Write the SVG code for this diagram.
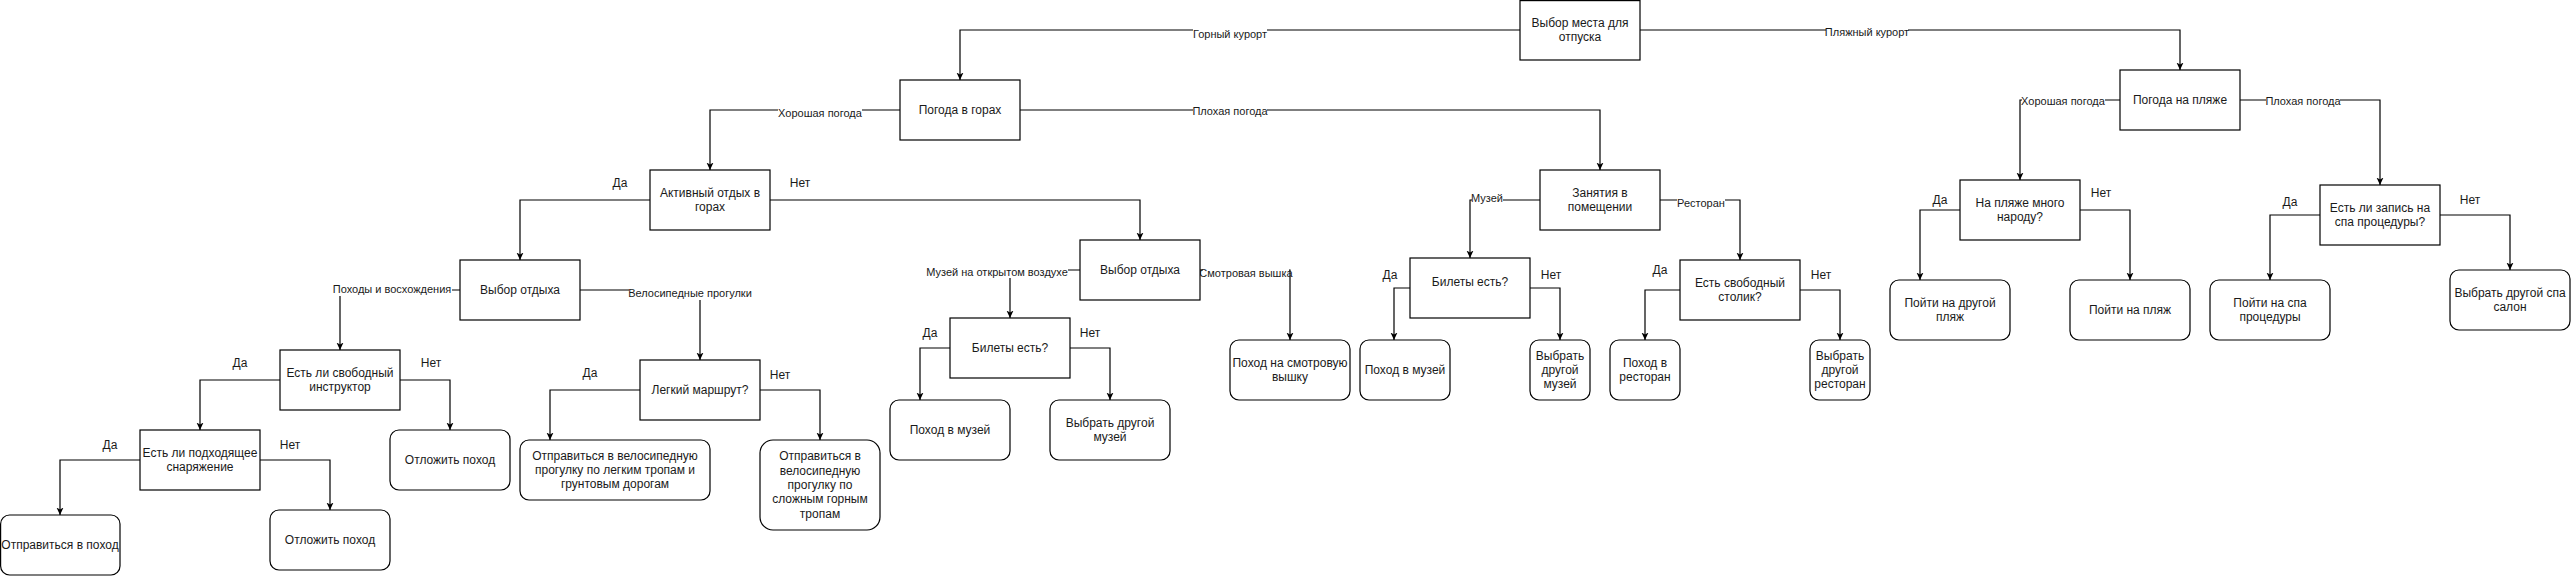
<svg xmlns="http://www.w3.org/2000/svg" width="2571" height="576" viewBox="0 0 2571 576">
<style>
.n{fill:#fff;stroke:#000;stroke-width:1.2}
.t{font-family:"Liberation Sans",Arial,sans-serif;font-size:12px;fill:#1a1a1a;text-anchor:middle}
.c{fill:none;stroke:#000;stroke-width:1.2;marker-end:url(#arr)}
.lb{fill:#fff}
.lt{font-family:"Liberation Sans",Arial,sans-serif;font-size:11px;fill:#1a1a1a;text-anchor:middle}
</style>
<defs>
<marker id="arr" viewBox="0 0 8 8" refX="7.5" refY="4" markerWidth="8" markerHeight="8" orient="auto" markerUnits="userSpaceOnUse">
<path d="M0,0.5 L7.5,4 L0,7.5 L2,4 Z" fill="#000"/>
</marker>
</defs>
<rect width="2571" height="576" fill="#fff"/>
<g id="connectors">
<path class="c" d="M1520,30 H960 V80"/>
<path class="c" d="M1640,30 H2180 V70"/>
<path class="c" d="M900,110 H710 V170"/>
<path class="c" d="M1020,110 H1600 V170"/>
<path class="c" d="M2120,100 H2020 V180"/>
<path class="c" d="M2240,100 H2380 V185"/>
<path class="c" d="M650,200 H520 V260"/>
<path class="c" d="M770,200 H1140 V240"/>
<path class="c" d="M460,290 H340 V350"/>
<path class="c" d="M580,290 H700 V360"/>
<path class="c" d="M280,380 H200 V430"/>
<path class="c" d="M400,380 H450 V430"/>
<path class="c" d="M140,460 H60 V515"/>
<path class="c" d="M260,460 H330 V510"/>
<path class="c" d="M640,390 H550 V440"/>
<path class="c" d="M760,390 H820 V440"/>
<path class="c" d="M1080,270 H1010 V318"/>
<path class="c" d="M1200,270 H1290 V340"/>
<path class="c" d="M950,348 H920 V400"/>
<path class="c" d="M1070,348 H1110 V400"/>
<path class="c" d="M1540,200 H1470 V258"/>
<path class="c" d="M1660,200 H1740 V260"/>
<path class="c" d="M1410,288 H1394 V340"/>
<path class="c" d="M1530,288 H1560 V340"/>
<path class="c" d="M1680,290 H1645 V340"/>
<path class="c" d="M1800,290 H1840 V340"/>
<path class="c" d="M1960,210 H1920 V280"/>
<path class="c" d="M2080,210 H2130 V280"/>
<path class="c" d="M2320,215 H2270 V280"/>
<path class="c" d="M2440,215 H2510 V270"/>
<g id="edge-labels">
<rect class="lb" x="1193" y="29" width="74" height="12"/><text class="lt" x="1230" y="38">Горный курорт</text>
<rect class="lb" x="1826" y="26" width="82" height="12"/><text class="lt" x="1867" y="36">Пляжный курорт</text>
<rect class="lb" x="778" y="106" width="84" height="13"/><text class="lt" x="820" y="117">Хорошая погода</text>
<rect class="lb" x="1193" y="105" width="74" height="13"/><text class="lt" x="1230" y="115">Плохая погода</text>
<rect class="lb" x="332" y="283" width="120" height="13"/><text class="lt" x="392" y="293">Походы и восхождения</text>
<rect class="lb" x="629" y="286" width="123" height="14"/><text class="lt" x="690" y="297">Велосипедные прогулки</text>
<rect class="lb" x="927" y="265" width="141" height="13"/><text class="lt" x="997" y="276">Музей на открытом воздухе</text>
<rect class="lb" x="1203" y="266" width="86" height="13"/><text class="lt" x="1246" y="277">Смотровая вышка</text>
<rect class="lb" x="1472" y="192" width="31" height="13"/><text class="lt" x="1487" y="202">Музей</text>
<rect class="lb" x="1677" y="196" width="48" height="13"/><text class="lt" x="1701" y="207">Ресторан</text>
<rect class="lb" x="2022" y="94" width="83" height="13"/><text class="lt" x="2063" y="105">Хорошая погода</text>
<rect class="lb" x="2266" y="94" width="74" height="13"/><text class="lt" x="2303" y="105">Плохая погода</text>
</g>
</g>
<g id="branch-labels">
<text class="t" x="240" y="367">Да</text><text class="t" x="431" y="367">Нет</text>
<text class="t" x="110" y="449">Да</text><text class="t" x="290" y="449">Нет</text>
<text class="t" x="620" y="187">Да</text><text class="t" x="800" y="187">Нет</text>
<text class="t" x="590" y="377">Да</text><text class="t" x="780" y="379">Нет</text>
<text class="t" x="930" y="337">Да</text><text class="t" x="1090" y="337">Нет</text>
<text class="t" x="1390" y="279">Да</text><text class="t" x="1551" y="279">Нет</text>
<text class="t" x="1660" y="274">Да</text><text class="t" x="1821" y="279">Нет</text>
<text class="t" x="1940" y="204">Да</text><text class="t" x="2101" y="197">Нет</text>
<text class="t" x="2290" y="206">Да</text><text class="t" x="2470" y="204">Нет</text>
</g>
<g id="n1"><rect class="n" x="1520" y="0.6" width="120" height="59.4"/><text class="t" x="1580" y="26.8">Выбор места для<tspan x="1580" dy="14.4">отпуска</tspan></text></g>
<g id="n2"><rect class="n" x="900" y="80" width="120" height="60"/><text class="t" x="960" y="114">Погода в горах</text></g>
<g id="n3"><rect class="n" x="2120" y="70" width="120" height="60"/><text class="t" x="2180" y="104">Погода на пляже</text></g>
<g id="n4"><rect class="n" x="650" y="170" width="120" height="60"/><text class="t" x="710" y="196.8">Активный отдых в<tspan x="710" dy="14.4">горах</tspan></text></g>
<g id="n5"><rect class="n" x="1540" y="170" width="120" height="60"/><text class="t" x="1600" y="196.8">Занятия в<tspan x="1600" dy="14.4">помещении</tspan></text></g>
<g id="n6"><rect class="n" x="1960" y="180" width="120" height="60"/><text class="t" x="2020" y="206.8">На пляже много<tspan x="2020" dy="14.4">народу?</tspan></text></g>
<g id="n7"><rect class="n" x="2320" y="185" width="120" height="60"/><text class="t" x="2380" y="211.8">Есть ли запись на<tspan x="2380" dy="14.4">спа процедуры?</tspan></text></g>
<g id="n8"><rect class="n" x="460" y="260" width="120" height="60"/><text class="t" x="520" y="294">Выбор отдыха</text></g>
<g id="n9"><rect class="n" x="1080" y="240" width="120" height="60"/><text class="t" x="1140" y="274">Выбор отдыха</text></g>
<g id="n10"><rect class="n" x="280" y="350" width="120" height="60"/><text class="t" x="340" y="376.8">Есть ли свободный<tspan x="340" dy="14.4">инструктор</tspan></text></g>
<g id="n11"><rect class="n" x="140" y="430" width="120" height="60"/><text class="t" x="200" y="456.8">Есть ли подходящее<tspan x="200" dy="14.4">снаряжение</tspan></text></g>
<g id="n12"><rect class="n" x="0.6" y="515" width="119.4" height="60" rx="9"/><text class="t" x="60" y="549">Отправиться в поход</text></g>
<g id="n13"><rect class="n" x="270" y="510" width="120" height="60" rx="9"/><text class="t" x="330" y="544">Отложить поход</text></g>
<g id="n14"><rect class="n" x="390" y="430" width="120" height="60" rx="9"/><text class="t" x="450" y="464">Отложить поход</text></g>
<g id="n15"><rect class="n" x="640" y="360" width="120" height="60"/><text class="t" x="700" y="394">Легкий маршрут?</text></g>
<g id="n16"><rect class="n" x="520" y="440" width="190" height="60" rx="9"/><text class="t" x="615" y="459.6">Отправиться в велосипедную<tspan x="615" dy="14.4">прогулку по легким тропам и</tspan><tspan x="615" dy="14.4">грунтовым дорогам</tspan></text></g>
<g id="n17"><rect class="n" x="760" y="440" width="120" height="90" rx="13"/><text class="t" x="820" y="460.2">Отправиться в<tspan x="820" dy="14.4">велосипедную</tspan><tspan x="820" dy="14.4">прогулку по</tspan><tspan x="820" dy="14.4">сложным горным</tspan><tspan x="820" dy="14.4">тропам</tspan></text></g>
<g id="n18"><rect class="n" x="950" y="318" width="120" height="60"/><text class="t" x="1010" y="352">Билеты есть?</text></g>
<g id="n19"><rect class="n" x="890" y="400" width="120" height="60" rx="9"/><text class="t" x="950" y="434">Поход в музей</text></g>
<g id="n20"><rect class="n" x="1050" y="400" width="120" height="60" rx="9"/><text class="t" x="1110" y="426.8">Выбрать другой<tspan x="1110" dy="14.4">музей</tspan></text></g>
<g id="n21"><rect class="n" x="1230" y="340" width="120" height="60" rx="9"/><text class="t" x="1290" y="366.8">Поход на смотровую<tspan x="1290" dy="14.4">вышку</tspan></text></g>
<g id="n22"><rect class="n" x="1410" y="258" width="120" height="60"/><text class="t" x="1470" y="286">Билеты есть?</text></g>
<g id="n23"><rect class="n" x="1360" y="340" width="90" height="60" rx="9"/><text class="t" x="1405" y="374">Поход в музей</text></g>
<g id="n24"><rect class="n" x="1530" y="340" width="60" height="60" rx="9"/><text class="t" x="1560" y="359.6">Выбрать<tspan x="1560" dy="14.4">другой</tspan><tspan x="1560" dy="14.4">музей</tspan></text></g>
<g id="n25"><rect class="n" x="1680" y="260" width="120" height="60"/><text class="t" x="1740" y="286.8">Есть свободный<tspan x="1740" dy="14.4">столик?</tspan></text></g>
<g id="n26"><rect class="n" x="1610" y="340" width="70" height="60" rx="9"/><text class="t" x="1645" y="366.8">Поход в<tspan x="1645" dy="14.4">ресторан</tspan></text></g>
<g id="n27"><rect class="n" x="1810" y="340" width="60" height="60" rx="9"/><text class="t" x="1840" y="359.6">Выбрать<tspan x="1840" dy="14.4">другой</tspan><tspan x="1840" dy="14.4">ресторан</tspan></text></g>
<g id="n28"><rect class="n" x="1890" y="280" width="120" height="60" rx="9"/><text class="t" x="1950" y="306.8">Пойти на другой<tspan x="1950" dy="14.4">пляж</tspan></text></g>
<g id="n29"><rect class="n" x="2070" y="280" width="120" height="60" rx="9"/><text class="t" x="2130" y="314">Пойти на пляж</text></g>
<g id="n30"><rect class="n" x="2210" y="280" width="120" height="60" rx="9"/><text class="t" x="2270" y="306.8">Пойти на спа<tspan x="2270" dy="14.4">процедуры</tspan></text></g>
<g id="n31"><rect class="n" x="2450" y="270" width="120" height="60" rx="9"/><text class="t" x="2510" y="296.8">Выбрать другой спа<tspan x="2510" dy="14.4">салон</tspan></text></g>
</svg>
